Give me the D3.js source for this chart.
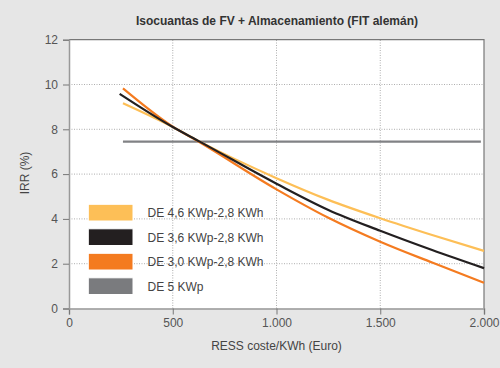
<!DOCTYPE html>
<html><head><meta charset="utf-8">
<script src="https://cdn.jsdelivr.net/npm/d3@7"></script>
<style>
html,body{margin:0;padding:0;background:#e6e6e6;}
svg{display:block;font-family:"Liberation Sans",Arial,sans-serif;}
</style></head>
<body>
<script>
const title = "Isocuantas de FV + Almacenamiento (FIT alemán)";
const xLabel = "RESS coste/KWh (Euro)";
const yLabel = "IRR (%)";
const xTicks = [0, 500, 1000, 1500, 2000];
const yTicks = [0, 2, 4, 6, 8, 10, 12];
const seriesNames = ["DE 4,6 KWp-2,8 KWh", "DE 3,6 KWp-2,8 KWh", "DE 3,0 KWp-2,8 KWh", "DE 5 KWp"];
const seriesColors = ["#fdbf57", "#231f20", "#f47b20", "#7a7b7e"];
const costYellow = [260, 500, 630, 1000, 1250, 1500, 1750, 2000];
const irrYellow  = [9.16, 8.1, 7.45, 5.82, 4.85, 4.03, 3.28, 2.57];
const costBlack  = [244, 500, 630, 1000, 1250, 1500, 1750, 2000];
const irrBlack   = [9.58, 8.1, 7.45, 5.57, 4.4, 3.47, 2.61, 1.8];
const costOrange = [260, 500, 630, 1000, 1250, 1500, 1750, 2000];
const irrOrange  = [9.83, 8.12, 7.42, 5.32, 4.05, 2.98, 2.05, 1.15];
const costGray   = [260, 1985];
const irrGray    = [7.45, 7.45];

const W = 500, H = 368;
const m = {left: 69, right: 16, top: 40, bottom: 60};
const svg = d3.select("body").append("svg").attr("width", W).attr("height", H);
svg.append("rect").attr("width", W).attr("height", H).attr("fill", "#e6e6e6");

const x = d3.scaleLinear().domain([0, 2000]).range([m.left, 484]);
const y = d3.scaleLinear().domain([0, 12]).range([308.5, 39.7]);

svg.append("rect").attr("x", x(0)).attr("y", y(12)).attr("width", x(2000) - x(0)).attr("height", y(0) - y(12)).attr("fill", "#fff");

// grid
const g = svg.append("g");
g.selectAll(".gy").data(yTicks.filter(d => d > 0 && d < 12)).join("line")
  .attr("x1", x(0)).attr("x2", x(2000)).attr("y1", d => y(d)).attr("y2", d => y(d))
  .attr("stroke", "#999").attr("stroke-width", 0.8).attr("stroke-dasharray", "1,1.5");
g.selectAll(".gx").data(xTicks.filter(d => d > 0 && d < 2000)).join("line")
  .attr("x1", d => x(d)).attr("x2", d => x(d)).attr("y1", y(0)).attr("y2", y(12))
  .attr("stroke", "#999").attr("stroke-width", 0.8).attr("stroke-dasharray", "1,1.5");

// frame top/right
svg.append("path").attr("d", `M${x(0)},${y(12)}H${x(2000)}V${y(0)}`).attr("fill", "none").attr("stroke", "#777").attr("stroke-width", 1.2);

// axes
const fmt = d => d3.format(",")(d).replace(/,/g, ".");
const xAxis = svg.append("g").attr("transform", `translate(0,${y(0)})`)
  .call(d3.axisBottom(x).tickValues(xTicks).tickFormat(fmt).tickSize(6).tickPadding(4));
const yAxis = svg.append("g").attr("transform", `translate(${x(0)},0)`)
  .call(d3.axisLeft(y).tickValues(yTicks).tickSize(6).tickPadding(5));
[xAxis, yAxis].forEach(a => {
  a.select(".domain").attr("stroke", "#999").attr("stroke-width", 1.5);
  a.selectAll(".tick line").attr("stroke", "#777");
  a.selectAll("text").attr("fill", "#555").attr("font-size", 12).attr("font-family", "Liberation Sans,Arial,sans-serif");
});

// lines
const line = d3.line().x(d => x(d[0])).y(d => y(d[1])).curve(d3.curveMonotoneX);
const zip = (a, b) => a.map((v, i) => [v, b[i]]);
const series = [
  {data: zip(costGray, irrGray), color: "#818285", w: 2.2},
  {data: zip(costYellow, irrYellow), color: seriesColors[0], w: 2.2},
  {data: zip(costOrange, irrOrange), color: seriesColors[2], w: 2.2},
  {data: zip(costBlack, irrBlack), color: seriesColors[1], w: 2.2},
];
svg.selectAll(".ln").data(series).join("path")
  .attr("d", d => line(d.data)).attr("fill", "none")
  .attr("stroke", d => d.color).attr("stroke-width", d => d.w);

// legend
const leg = svg.append("g");
seriesNames.forEach((n, i) => {
  const yy = 204.3 + i * 24.5;
  leg.append("rect").attr("x", 88.3).attr("y", yy).attr("width", 44.7).attr("height", 16.7)
    .attr("fill", seriesColors[i]).attr("stroke", "#fff").attr("stroke-width", 1);
  leg.append("text").attr("x", 147.5).attr("y", yy + 8.5).attr("dy", "0.35em")
    .attr("font-size", 12).attr("fill", "#444").text(n);
});

// titles
svg.append("text").attr("x", 277).attr("y", 21).attr("dy", "0.35em").attr("text-anchor", "middle")
  .attr("font-size", 12).attr("font-weight", "bold").attr("fill", "#333").text(title);
svg.append("text").attr("x", 276.5).attr("y", 345.5).attr("dy", "0.35em").attr("text-anchor", "middle")
  .attr("font-size", 12).attr("fill", "#444").text(xLabel);
svg.append("text").attr("transform", "translate(25,173) rotate(-90)").attr("dy", "0.35em").attr("text-anchor", "middle")
  .attr("font-size", 12).attr("fill", "#444").text(yLabel);
</script>
</body></html>
